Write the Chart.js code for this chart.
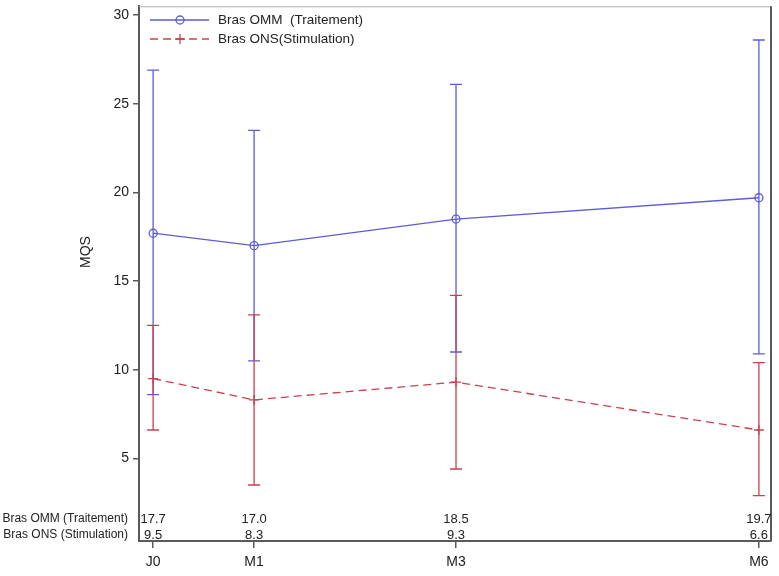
<!DOCTYPE html>
<html>
<head>
<meta charset="utf-8">
<script src="https://cdn.jsdelivr.net/npm/chart.js@4/dist/chart.umd.min.js"></script>
<style>
  html, body { margin: 0; padding: 0; background: #fff; }
  #wrap { width: 779px; height: 576px; }
</style>
</head>
<body>
<div id="wrap"><canvas id="mqs" width="779" height="576"></canvas></div>
<script>
// visits (months since inclusion) and their labels
const months = [0, 1, 3, 6];
const visitLabels = ['J0', 'M1', 'M3', 'M6'];
const yTicks = [5, 10, 15, 20, 25, 30];

const legendNames = ['Bras OMM  (Traitement)', 'Bras ONS(Stimulation)'];
const tableNames = ['Bras OMM (Traitement)', 'Bras ONS (Stimulation)'];

// MQS mean and error bar limits
const ommMean = [17.7, 17.0, 18.5, 19.7];
const ommUpper = [26.9, 23.5, 26.1, 28.6];
const ommLower = [8.6, 10.5, 11.0, 10.9];

const onsMean = [9.5, 8.3, 9.3, 6.6];
const onsUpper = [12.5, 13.1, 14.2, 10.4];
const onsLower = [6.6, 3.5, 4.4, 2.9];

const blue = 'rgb(92,92,214)';
const red = 'rgb(200,66,78)';
const axisGrey = '#5a5a5a';
const FONT = 'Liberation Sans, Arial, sans-serif';

function pts(vals) {
  return months.map((m, i) => ({ x: m, y: vals[i] }));
}

const bars = [
  { color: blue, upper: ommUpper, lower: ommLower },
  { color: red, upper: onsUpper, lower: onsLower }
];

const extras = {
  id: 'extras',
  beforeDatasetsDraw(chart) {
    const ctx = chart.ctx;
    const xs = chart.scales.x, ys = chart.scales.y;
    ctx.save();
    ctx.lineWidth = 1.3;
    bars.forEach(b => {
      ctx.strokeStyle = b.color;
      months.forEach((m, i) => {
        const x = xs.getPixelForValue(m);
        const yt = ys.getPixelForValue(b.upper[i]);
        const yb = ys.getPixelForValue(b.lower[i]);
        ctx.beginPath();
        ctx.moveTo(x, yt); ctx.lineTo(x, yb);
        ctx.moveTo(x - 6, yt); ctx.lineTo(x + 6, yt);
        ctx.moveTo(x - 6, yb); ctx.lineTo(x + 6, yb);
        ctx.stroke();
      });
    });
    ctx.restore();
  },
  afterDraw(chart) {
    const ctx = chart.ctx;
    const a = chart.chartArea;
    const xs = chart.scales.x;
    ctx.save();

    // frame: light top, dark right
    ctx.strokeStyle = '#b0b0b0';
    ctx.lineWidth = 1;
    ctx.beginPath();
    ctx.moveTo(a.left, a.top + 0.5); ctx.lineTo(a.right, a.top + 0.5);
    ctx.stroke();
    ctx.strokeStyle = axisGrey;
    ctx.lineWidth = 2;
    ctx.beginPath();
    ctx.moveTo(a.right, a.top); ctx.lineTo(a.right, a.bottom);
    ctx.stroke();

    // legend inside the plot
    ctx.lineWidth = 1.3;
    ctx.font = '13.5px ' + FONT;
    ctx.textBaseline = 'middle';
    ctx.textAlign = 'left';
    // OMM
    ctx.strokeStyle = blue;
    ctx.beginPath(); ctx.moveTo(150, 20); ctx.lineTo(209, 20); ctx.stroke();
    ctx.beginPath(); ctx.arc(180, 20, 4, 0, Math.PI * 2); ctx.stroke();
    ctx.fillStyle = '#222';
    ctx.fillText(legendNames[0], 218, 20);
    // ONS
    ctx.strokeStyle = red;
    ctx.setLineDash([8, 5]);
    ctx.beginPath(); ctx.moveTo(150, 39); ctx.lineTo(209, 39); ctx.stroke();
    ctx.setLineDash([]);
    ctx.beginPath();
    ctx.moveTo(175, 39); ctx.lineTo(185, 39);
    ctx.moveTo(180, 34); ctx.lineTo(180, 44);
    ctx.stroke();
    ctx.fillText(legendNames[1], 218, 39);

    // value table at the bottom of the plot
    ctx.font = '12px ' + FONT;
    ctx.textAlign = 'right';
    ctx.fillText(tableNames[0], 128, 519);
    ctx.fillText(tableNames[1], 128, 535);
    ctx.font = '13px ' + FONT;
    ctx.textAlign = 'center';
    months.forEach((m, i) => {
      const x = xs.getPixelForValue(m);
      ctx.fillText(ommMean[i].toFixed(1), x, 519);
      ctx.fillText(onsMean[i].toFixed(1), x, 535);
    });

    // y title
    ctx.translate(86, 252);
    ctx.rotate(-Math.PI / 2);
    ctx.font = '14px ' + FONT;
    ctx.fillText('MQS', 0, 0);
    ctx.restore();
  }
};

new Chart(document.getElementById('mqs'), {
  type: 'line',
  data: {
    datasets: [
      {
        label: legendNames[0],
        data: pts(ommMean),
        borderColor: blue,
        backgroundColor: 'rgba(255,255,255,0)',
        borderWidth: 1.3,
        pointStyle: 'circle',
        pointRadius: 4,
        pointBorderWidth: 1.3,
        tension: 0
      },
      {
        label: legendNames[1],
        data: pts(onsMean),
        borderColor: red,
        backgroundColor: red,
        borderWidth: 1.3,
        borderDash: [8, 5],
        pointStyle: 'cross',
        pointRadius: 5,
        pointBorderWidth: 1.3,
        tension: 0
      }
    ]
  },
  plugins: [extras],
  options: {
    responsive: false,
    animation: false,
    layout: { padding: { top: 4, right: 8, left: 0, bottom: 0 } },
    plugins: {
      legend: { display: false },
      tooltip: { enabled: false }
    },
    scales: {
      x: {
        type: 'linear',
        min: -0.14,
        max: 6.12,
        afterBuildTicks: s => { s.ticks = months.map(v => ({ value: v })); },
        afterFit: s => { s.height = 35; s.paddingLeft = 0; s.paddingRight = 0; },
        ticks: {
          autoSkip: false,
          maxRotation: 0,
          padding: 6,
          color: '#222',
          font: { family: FONT, size: 14 },
          callback: v => visitLabels[months.indexOf(v)]
        },
        grid: { drawOnChartArea: false, tickLength: 7, color: axisGrey, lineWidth: 1.5 },
        border: { color: axisGrey, width: 2 }
      },
      y: {
        min: 0.34,
        max: 30.5,
        afterBuildTicks: s => { s.ticks = yTicks.map(v => ({ value: v })); },
        afterFit: s => { s.width = 139; s.paddingTop = 0; s.paddingBottom = 0; },
        ticks: {
          padding: 4,
          color: '#222',
          font: { family: FONT, size: 14 }
        },
        grid: { drawOnChartArea: false, tickLength: 6, color: axisGrey, lineWidth: 1.5 },
        border: { color: axisGrey, width: 2 }
      }
    }
  }
});
</script>
</body>
</html>
